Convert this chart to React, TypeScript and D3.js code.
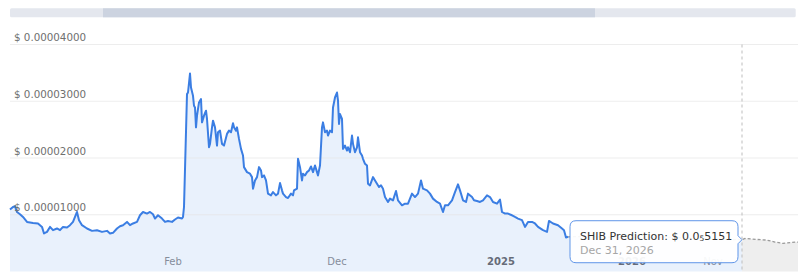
import React from "react";
import * as d3 from "d3";

// Prices in micro-dollars (1 = $0.000001); t = day index along the axis
const history: [number, number][] = [
  [0, 10.91], [3, 11.37], [5, 11.49], [7, 10.49], [10, 10.09], [13, 9.61], [17, 8.74], [23, 8.56],
  [28, 8.46], [32, 7.86], [34, 6.7], [37, 6.98], [40, 7.86], [43, 7.28], [47, 7.58], [50, 7.28],
  [53, 7.86], [57, 7.75], [60, 8.16], [63, 8.74], [67, 10.49], [69, 9.04], [72, 8.16], [77, 7.58],
  [82, 7.16], [87, 7.28], [92, 6.98], [97, 7.16], [100, 6.7], [103, 6.81], [107, 7.58], [110, 7.98],
  [113, 8.16], [117, 8.74], [120, 8.16], [123, 8.46], [127, 8.74], [130, 9.91], [133, 10.49], [137, 10.21],
  [140, 10.49], [143, 10.09], [145, 9.33], [148, 9.91], [152, 9.33], [155, 8.74], [158, 8.91], [162, 8.74],
  [165, 9.16], [168, 9.51], [172, 9.33], [173, 9.61], [174, 11.37], [177, 31.26], [178, 31.54], [180, 34.88],
  [181, 32.42], [183, 30.96], [184, 29.21], [185, 28.91], [186, 25.4], [187, 27.46], [189, 29.79], [191, 30.39],
  [192, 26.28], [194, 27.46], [196, 28.33], [197, 26.88], [199, 21.89], [200, 22.49], [202, 25.4], [203, 26.58],
  [205, 25.4], [207, 22.19], [208, 24.53], [210, 24.82], [212, 22.49], [214, 22.19], [217, 24.25], [219, 24.82],
  [221, 24.53], [223, 26.11], [224, 25.4], [226, 24.82], [227, 25.4], [229, 23.37], [231, 21.61], [233, 20.44],
  [234, 18.39], [237, 17.51], [240, 17.23], [242, 16.63], [243, 14.6], [245, 16.05], [247, 16.63], [249, 18.39],
  [251, 17.81], [252, 16.63], [254, 16.93], [256, 16.05], [258, 13.72], [261, 13.42], [263, 14.0], [266, 13.42],
  [268, 13.72], [270, 15.58], [272, 14.3], [273, 13.72], [276, 13.12], [278, 12.95], [281, 13.72], [283, 13.42],
  [284, 14.3], [287, 14.6], [288, 19.86], [290, 18.39], [292, 16.05], [293, 17.23], [295, 16.93], [297, 17.51],
  [299, 17.81], [301, 18.51], [303, 17.51], [305, 18.68], [307, 17.51], [308, 16.93], [310, 18.68], [312, 25.4],
  [313, 26.28], [315, 24.53], [317, 24.82], [318, 23.95], [320, 24.82], [322, 24.53], [323, 28.91], [325, 30.67],
  [327, 31.54], [328, 30.09], [329, 26.0], [330, 27.75], [332, 26.88], [333, 21.61], [335, 22.19], [337, 21.32],
  [338, 21.89], [340, 21.02], [342, 23.95], [343, 22.49], [345, 21.02], [347, 21.89], [348, 23.65], [350, 21.02],
  [352, 20.44], [353, 19.86], [355, 18.98], [357, 18.68], [358, 15.47], [360, 15.18], [363, 16.63], [365, 16.05],
  [367, 15.47], [369, 14.88], [371, 15.18], [373, 14.6], [375, 13.12], [378, 12.25], [380, 12.84], [383, 12.54],
  [386, 14.18], [388, 12.54], [392, 11.67], [395, 11.96], [398, 11.96], [402, 13.72], [405, 13.12], [408, 13.72],
  [411, 16.05], [413, 14.6], [417, 14.3], [420, 13.72], [423, 12.84], [427, 12.25], [430, 11.96], [433, 10.49],
  [435, 11.67], [438, 11.67], [442, 12.54], [445, 14.0], [448, 15.35], [450, 14.3], [453, 12.54], [456, 12.25],
  [458, 13.72], [462, 13.12], [464, 12.54], [467, 12.42], [470, 12.25], [473, 12.54], [477, 13.42], [480, 13.12],
  [483, 12.25], [487, 11.96], [490, 12.67], [492, 10.49], [495, 10.21], [498, 10.21], [502, 9.91], [505, 9.61],
  [508, 9.33], [512, 9.04], [515, 7.86], [518, 8.74], [522, 8.74], [525, 8.46], [528, 7.86], [533, 7.28],
  [537, 6.98], [539, 8.91], [543, 8.46], [548, 8.16], [552, 7.58], [554, 7.28], [556, 6.0], [558, 6.11],
];

const prediction: [number, number][] = [
  [558, 6.11], [580, 6.2], [620, 5.9], [660, 6.05], [700, 5.75], [732, 5.6], [735, 5.82], [747, 5.65],
  [757, 5.53], [765, 5.18], [773, 4.95], [785, 5.18], [788, 5.18],
];

const cursorDay = 732;
const yTicks = [10, 20, 30, 40];
const xTicks = [
  { t: 163, label: "Feb", bold: false },
  { t: 327, label: "Dec", bold: false },
  { t: 491, label: "2025", bold: true },
  { t: 622, label: "2026", bold: true },
  { t: 703, label: "Nov", bold: false },
];
const tooltipTitle = "SHIB Prediction: ";
const tooltipPrice = { prefix: "$ 0.0", zeros: "5", digits: "5151" };
const tooltipDate = "Dec 31, 2026";

const W = 798;
const H = 279;
const FONT = "DejaVu Sans, Verdana, sans-serif";

export default function App() {
  const x = d3.scaleLinear().domain([0, 788]).range([10, 798]);
  const y = d3.scaleLinear().domain([0, 40]).range([271.5, 44.5]);

  const line = d3.line<[number, number]>().x((d) => x(d[0])).y((d) => y(d[1]));
  const area = d3
    .area<[number, number]>()
    .x((d) => x(d[0]))
    .y0(y(0))
    .y1((d) => y(d[1]));

  const predBefore = prediction.filter((d) => d[0] <= cursorDay);
  const predAfter = prediction.filter((d) => d[0] >= cursorDay);

  const cx = x(cursorDay);
  const cy = y(5.6);
  // tooltip box
  const tw = 168;
  const th = 42;
  const tRight = cx - 4;
  const tLeft = tRight - tw;
  const tTop = cy - 19;

  return (
    <div style={{ position: "fixed", left: 0, top: 0, width: W, height: H, background: "#fff" }}>
      <svg width={W} height={H} style={{ display: "block" }} fontFamily={FONT}>
        {/* scrollbar */}
        <rect x={10} y={8.3} width={785.7} height={9} fill="#e4e7ee" rx={1.5} />
        <rect x={103} y={8.3} width={492} height={9} fill="#ccd3e0" />

        {/* areas */}
        <path d={area([...history, ...predBefore]) || ""} fill="#e9f1fc" />
        <path d={area(predAfter) || ""} fill="#eeeeee" />

        {/* grid */}
        {yTicks.map((v) => (
          <line key={v} x1={10} x2={798} y1={y(v)} y2={y(v)} stroke="#e6e6e6" strokeOpacity={0.7} strokeWidth={1} />
        ))}

        {/* lines */}
        <path d={line(prediction) || ""} fill="none" stroke="#9a9a9a" strokeWidth={1.3} strokeDasharray="3,2" />
        <path d={line(history) || ""} fill="none" stroke="#3b7ee3" strokeWidth={2} strokeLinejoin="round" />

        {/* y labels */}
        {yTicks.map((v) => (
          <text key={v} x={14} y={y(v) - 3.5} fontSize={10.3} fill="#6f6f6f">
            {`$ ${(v / 1e6).toFixed(8)}`}
          </text>
        ))}

        {/* x labels */}
        {xTicks.map((tk) => (
          <text
            key={tk.label}
            x={x(tk.t)}
            y={265}
            fontSize={10}
            textAnchor="middle"
            fill={tk.bold ? "#666c78" : "#858d9b"}
            fontWeight={tk.bold ? "bold" : "normal"}
          >
            {tk.label}
          </text>
        ))}

        {/* cursor */}
        <line x1={cx} x2={cx} y1={y(40)} y2={y(0) - 2} stroke="#bdbdbd" strokeDasharray="3,3" strokeWidth={1} />

        {/* tooltip */}
        <path
          d={`M${tLeft + 6},${tTop} H${tRight - 6} Q${tRight},${tTop} ${tRight},${tTop + 6} V${cy - 4} L${cx},${cy} L${tRight},${cy + 4} V${tTop + th - 6} Q${tRight},${tTop + th} ${tRight - 6},${tTop + th} H${tLeft + 6} Q${tLeft},${tTop + th} ${tLeft},${tTop + th - 6} V${tTop + 6} Q${tLeft},${tTop} ${tLeft + 6},${tTop} Z`}
          fill="#ffffff"
          fillOpacity={0.93}
          stroke="#5f95e8"
          strokeWidth={1}
        />
        <text x={tLeft + 10} y={tTop + 19} fontSize={11} fill="#333">
          {tooltipTitle}
          <tspan>{tooltipPrice.prefix}</tspan>
          <tspan fontSize={7.5} dy={1.5}>{tooltipPrice.zeros}</tspan>
          <tspan dy={-1.5}>{tooltipPrice.digits}</tspan>
        </text>
        <text x={tLeft + 10} y={tTop + 33} fontSize={11} fill="#a6a6a6">
          {tooltipDate}
        </text>
      </svg>
    </div>
  );
}
